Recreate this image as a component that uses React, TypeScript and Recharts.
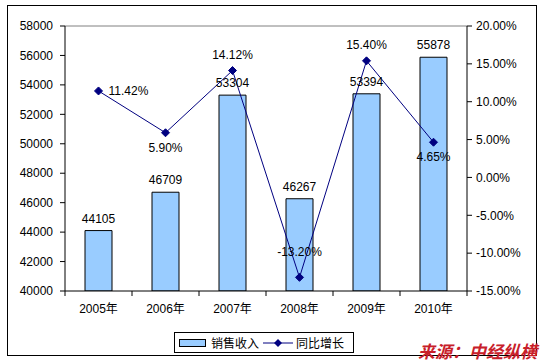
import React from "react";
import {
  ComposedChart,
  Bar,
  Line,
  XAxis,
  YAxis,
  LabelList,
  ReferenceLine,
} from "recharts";

const years = ["2005年", "2006年", "2007年", "2008年", "2009年", "2010年"];
const sales = [44105, 46709, 53304, 46267, 53394, 55878];
const growth = [11.42, 5.9, 14.12, -13.2, 15.4, 4.65];
const salesTicks = [40000, 42000, 44000, 46000, 48000, 50000, 52000, 54000, 56000, 58000];
const growthTicks = [-15, -10, -5, 0, 5, 10, 15, 20];

// where each growth label sits relative to its point
const growthLabelSide = ["right", "bottom", "top", "topFar", "top", "bottom"];

const FONT = "Arial, 'Liberation Sans', 'Noto Sans CJK SC', sans-serif";
const BAR_FILL = "#99ccff";
const LINE_COLOR = "#000080";

const data = years.map((y, i) => ({ year: y, sales: sales[i], growth: growth[i] }));

function XTick(props: any) {
  const { x, y, payload, index } = props;
  const half = 67 / 2;
  return (
    <g>
      <line x1={x - half} x2={x - half} y1={y} y2={y + 5} stroke="#000" />
      {index === years.length - 1 && (
        <line x1={x + half} x2={x + half} y1={y} y2={y + 5} stroke="#000" />
      )}
      <text x={x} y={y + 22} textAnchor="middle" fontSize={12} fontFamily={FONT} fill="#000">
        {payload.value}
      </text>
    </g>
  );
}

function GrowthLabel(props: any) {
  const { x, y, index } = props;
  const side = growthLabelSide[index];
  const txt = growth[index].toFixed(2) + "%";
  let tx = x;
  let ty = y;
  let anchor: "start" | "middle" = "middle";
  if (side === "right") {
    tx = x + 10;
    ty = y + 4;
    anchor = "start";
  } else if (side === "bottom") {
    ty = y + 19;
  } else if (side === "topFar") {
    ty = y - 21;
  } else {
    ty = y - 12;
  }
  return (
    <text x={tx} y={ty} textAnchor={anchor} fontSize={12} fontFamily={FONT} fill="#000">
      {txt}
    </text>
  );
}

function Diamond(props: any) {
  const { cx, cy } = props;
  if (cx == null || cy == null) return null;
  return (
    <path
      d={`M${cx},${cy - 4}L${cx + 4},${cy}L${cx},${cy + 4}L${cx - 4},${cy}Z`}
      fill={LINE_COLOR}
      stroke={LINE_COLOR}
    />
  );
}

export default function App() {
  return (
    <div style={{ position: "absolute", left: 0, top: 0, width: 541, height: 364, background: "#fff" }}>
      <div
        style={{
          position: "absolute",
          left: 7,
          top: 5,
          width: 528,
          height: 349,
          border: "1px solid #000",
        }}
      />
      <ComposedChart
        width={541}
        height={364}
        data={data}
        margin={{ top: 26, right: 0, left: 0, bottom: 43 }}
        style={{ position: "absolute", left: 0, top: 0 }}
      >
        <XAxis
          dataKey="year"
          axisLine={{ stroke: "#000" }}
          tickLine={false}
          tickSize={0}
          tickMargin={0}
          tick={<XTick />}
          height={30}
          interval={0}
        />
        <YAxis
          yAxisId="left"
          domain={[40000, 58000]}
          ticks={salesTicks}
          width={65}
          axisLine={{ stroke: "#000" }}
          tickLine={{ stroke: "#000" }}
          tickSize={5}
          tickMargin={7}
          tick={{ fontSize: 12, fontFamily: FONT, fill: "#000" }}
          interval={0}
          allowDataOverflow
        />
        <YAxis
          yAxisId="right"
          orientation="right"
          domain={[-15, 20]}
          ticks={growthTicks}
          width={74}
          axisLine={{ stroke: "#000" }}
          tickLine={{ stroke: "#000" }}
          tickSize={5}
          tickMargin={4}
          tick={{ fontSize: 12, fontFamily: FONT, fill: "#000", textAnchor: "start" }}
          tickFormatter={(v: number) => v.toFixed(2) + "%"}
          interval={0}
        />
        <ReferenceLine yAxisId="left" y={58000} stroke="#808080" />
        <Bar
          yAxisId="left"
          dataKey="sales"
          fill={BAR_FILL}
          stroke="#000"
          strokeWidth={1}
          barSize={27}
          isAnimationActive={false}
        >
          <LabelList
            dataKey="sales"
            position="top"
            offset={8}
            style={{ fontSize: 12, fontFamily: FONT, fill: "#000" }}
          />
        </Bar>
        <Line
          yAxisId="right"
          dataKey="growth"
          stroke={LINE_COLOR}
          strokeWidth={1}
          dot={<Diamond />}
          activeDot={false}
          isAnimationActive={false}
        >
          <LabelList dataKey="growth" content={<GrowthLabel />} />
        </Line>
      </ComposedChart>
      <div
        style={{
          position: "absolute",
          left: 174,
          top: 332,
          width: 178,
          height: 19,
          border: "1px solid #000",
          fontFamily: FONT,
          fontSize: 12,
          display: "flex",
          alignItems: "center",
        }}
      >
        <span
          style={{
            display: "inline-block",
            width: 25,
            height: 6,
            background: BAR_FILL,
            border: "1px solid #000",
            marginLeft: 4,
            marginRight: 5,
          }}
        />
        <span>销售收入</span>
        <svg width={30} height={10} style={{ marginLeft: 4, marginRight: 3 }}>
          <line x1={0} x2={30} y1={5} y2={5} stroke={LINE_COLOR} />
          <path d="M15,1L19,5L15,9L11,5Z" fill={LINE_COLOR} />
        </svg>
        <span>同比增长</span>
      </div>
      <div
        style={{
          position: "absolute",
          left: 418,
          top: 342,
          fontFamily: "'Noto Sans CJK SC', sans-serif",
          fontSize: 17,
          fontWeight: "bold",
          fontStyle: "italic",
          color: "#c8202a",
          lineHeight: "17px",
          whiteSpace: "nowrap",
        }}
      >
        来源：中经纵横
      </div>
    </div>
  );
}
